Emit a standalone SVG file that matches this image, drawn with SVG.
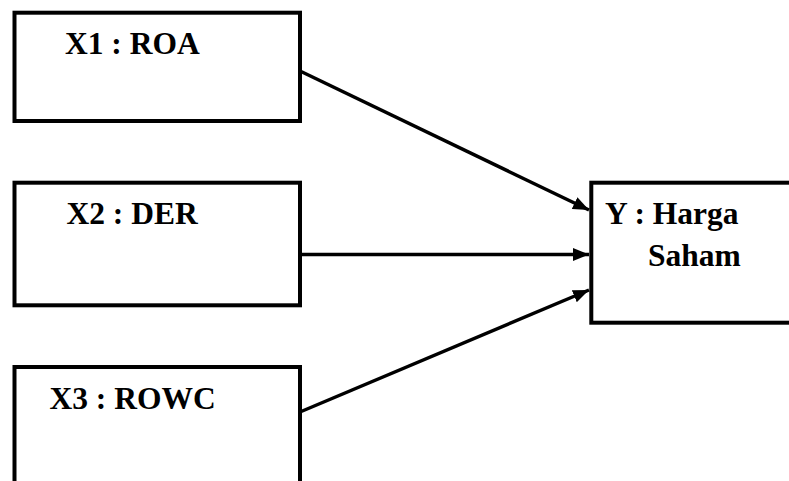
<svg xmlns="http://www.w3.org/2000/svg" width="789" height="481" viewBox="0 0 789 481">
<style>
.box{fill:#fff;stroke:#000;stroke-width:4}
.lbl{font-family:"Liberation Serif","Times New Roman",serif;font-weight:bold;font-size:31.5px;fill:#000}
.edge{stroke:#000;stroke-width:3.4;fill:none}
</style>
<defs>
<marker id="arr" markerUnits="userSpaceOnUse" markerWidth="18" markerHeight="14" refX="16" refY="7" orient="auto">
<path d="M0,0.5 L16,7 L0,13.5 Z" fill="#000"/>
</marker>
</defs>
<rect width="789" height="481" fill="#fff"/>
<g id="edges">
<line class="edge" x1="300" y1="71" x2="589" y2="210" marker-end="url(#arr)"/>
<line class="edge" x1="300" y1="254.5" x2="589" y2="254.5" marker-end="url(#arr)"/>
<line class="edge" x1="300" y1="412" x2="589" y2="290" marker-end="url(#arr)"/>
</g>
<g id="x1">
<rect class="box" x="14.5" y="12.7" width="285.5" height="108.3"/>
<text class="lbl" x="65" y="54">X1 : ROA</text>
</g>
<g id="x2">
<rect class="box" x="14.5" y="182.7" width="285.5" height="122.6"/>
<text class="lbl" x="66.5" y="224">X2 : DER</text>
</g>
<g id="x3">
<rect class="box" x="14.5" y="367" width="285.5" height="130"/>
<text class="lbl" x="49.5" y="409">X3 : ROWC</text>
</g>
<g id="y">
<rect class="box" x="591.3" y="182.7" width="220" height="140"/>
<text class="lbl" x="605" y="224">Y : Harga</text>
<text class="lbl" x="648" y="266">Saham</text>
</g>
</svg>
